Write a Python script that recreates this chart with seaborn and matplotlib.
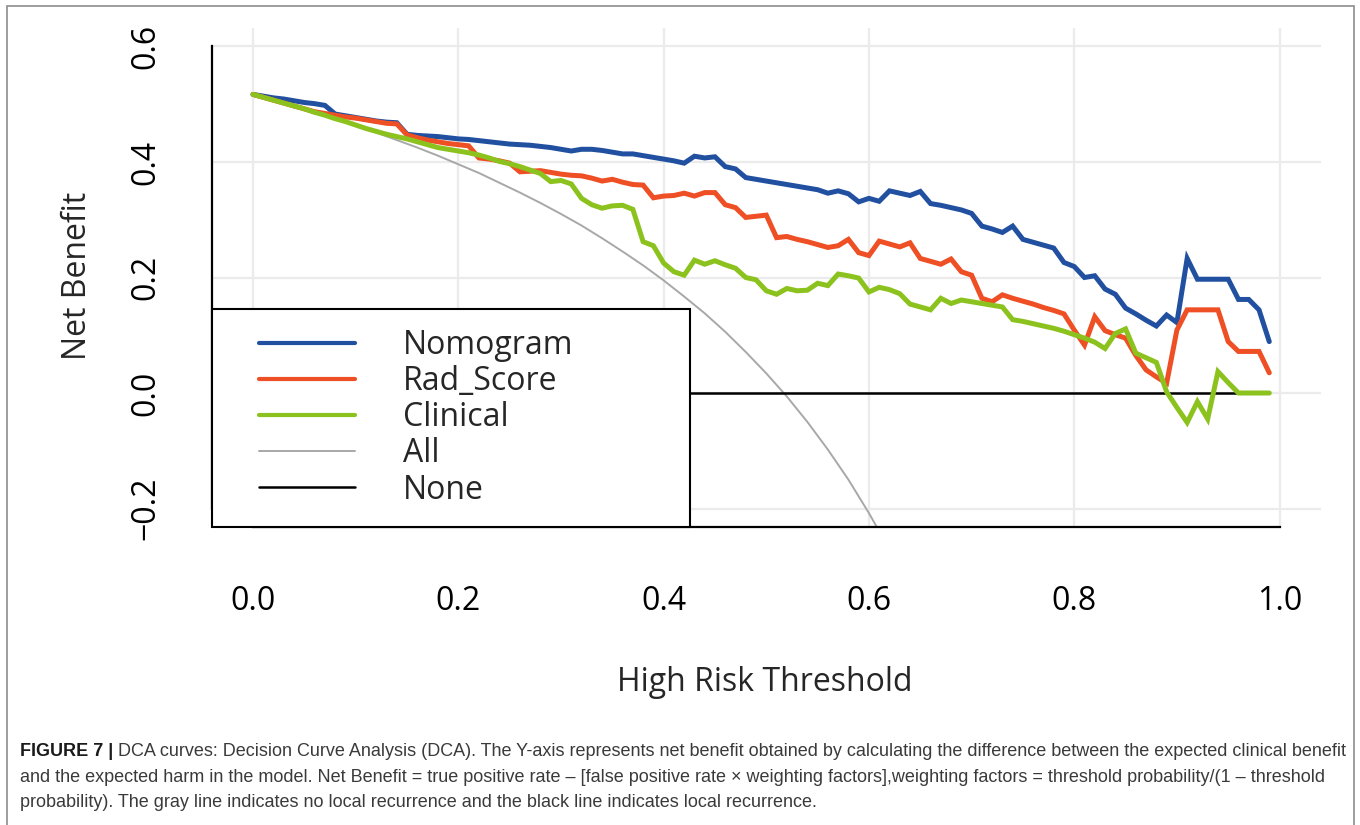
import matplotlib
matplotlib.use("Agg")
import matplotlib.pyplot as plt
import seaborn as sns
import pandas as pd
from matplotlib.lines import Line2D
from matplotlib.patches import Rectangle
from matplotlib.legend_handler import HandlerLine2D

# ---------------- data ----------------
thresholds = [round(i / 100, 2) for i in range(100)]

nomogram = [
    0.517, 0.514, 0.511, 0.509, 0.506, 0.503, 0.501, 0.498, 0.483, 0.480,
    0.477, 0.474, 0.471, 0.469, 0.468, 0.448, 0.446, 0.445, 0.444, 0.442,
    0.440, 0.439, 0.437, 0.435, 0.433, 0.431, 0.430, 0.429, 0.427, 0.425,
    0.422, 0.419, 0.422, 0.422, 0.420, 0.417, 0.414, 0.414, 0.411, 0.408,
    0.405, 0.402, 0.398, 0.410, 0.407, 0.409, 0.392, 0.388, 0.373, 0.370,
    0.367, 0.364, 0.361, 0.358, 0.355, 0.352, 0.346, 0.350, 0.345, 0.331,
    0.337, 0.332, 0.350, 0.346, 0.342, 0.349, 0.328, 0.325, 0.321, 0.317,
    0.311, 0.289, 0.284, 0.278, 0.289, 0.266, 0.261, 0.256, 0.251, 0.226,
    0.219, 0.200, 0.203, 0.180, 0.171, 0.147, 0.137, 0.126, 0.116, 0.135,
    0.122, 0.233, 0.197, 0.197, 0.197, 0.197, 0.162, 0.162, 0.144, 0.089,
]

rad_score = [
    0.517, 0.512, 0.507, 0.502, 0.497, 0.492, 0.487, 0.484, 0.481, 0.478,
    0.476, 0.473, 0.470, 0.467, 0.466, 0.447, 0.442, 0.438, 0.435, 0.432,
    0.430, 0.428, 0.407, 0.405, 0.402, 0.398, 0.383, 0.384, 0.385, 0.382,
    0.379, 0.377, 0.376, 0.372, 0.367, 0.370, 0.365, 0.361, 0.360, 0.338,
    0.341, 0.342, 0.346, 0.341, 0.347, 0.347, 0.326, 0.321, 0.304, 0.306,
    0.308, 0.269, 0.271, 0.266, 0.262, 0.257, 0.252, 0.255, 0.266, 0.243,
    0.238, 0.263, 0.258, 0.253, 0.260, 0.233, 0.228, 0.223, 0.232, 0.210,
    0.204, 0.164, 0.158, 0.170, 0.164, 0.159, 0.154, 0.148, 0.143, 0.137,
    0.109, 0.083, 0.132, 0.108, 0.101, 0.095, 0.065, 0.040, 0.028, 0.017,
    0.109, 0.144, 0.144, 0.144, 0.144, 0.089, 0.072, 0.072, 0.072, 0.035,
]

clinical = [
    0.517, 0.512, 0.507, 0.502, 0.497, 0.492, 0.486, 0.481, 0.475, 0.470,
    0.464, 0.458, 0.453, 0.448, 0.444, 0.440, 0.435, 0.430, 0.425, 0.422,
    0.419, 0.416, 0.412, 0.407, 0.401, 0.397, 0.392, 0.386, 0.380, 0.366,
    0.368, 0.362, 0.337, 0.326, 0.320, 0.324, 0.325, 0.318, 0.262, 0.255,
    0.225, 0.210, 0.204, 0.230, 0.223, 0.229, 0.222, 0.216, 0.200, 0.196,
    0.177, 0.171, 0.181, 0.177, 0.178, 0.190, 0.186, 0.206, 0.203, 0.199,
    0.175, 0.183, 0.179, 0.172, 0.154, 0.149, 0.144, 0.164, 0.155, 0.161,
    0.158, 0.155, 0.152, 0.149, 0.127, 0.124, 0.120, 0.116, 0.112, 0.107,
    0.101, 0.095, 0.088, 0.077, 0.103, 0.111, 0.069, 0.061, 0.053, 0.002,
    -0.025, -0.051, -0.015, -0.045, 0.037, 0.018, 0.000, 0.000, 0.000, 0.000,
]

all_thresholds = [0.00, 0.02, 0.04, 0.06, 0.08, 0.10, 0.12, 0.14, 0.16, 0.18,
                  0.20, 0.22, 0.24, 0.26, 0.28, 0.30, 0.32, 0.34, 0.36, 0.38,
                  0.40, 0.42, 0.44, 0.46, 0.48, 0.50, 0.52, 0.54, 0.56, 0.58,
                  0.60, 0.62]
treat_all = [0.517, 0.507, 0.497, 0.486, 0.475, 0.463, 0.451, 0.438, 0.425, 0.411,
             0.396, 0.381, 0.364, 0.347, 0.329, 0.310, 0.290, 0.268, 0.245, 0.221,
             0.195, 0.167, 0.138, 0.106, 0.071, 0.034, -0.006, -0.050, -0.098, -0.150,
             -0.208, -0.271]

none_thresholds = [0.00, 0.99]
treat_none = [0.0, 0.0]

series_names = ["Nomogram", "Rad_Score", "Clinical", "All", "None"]
x_ticks = [0.0, 0.2, 0.4, 0.6, 0.8, 1.0]
x_tick_labels = ["0.0", "0.2", "0.4", "0.6", "0.8", "1.0"]
y_ticks = [-0.2, 0.0, 0.2, 0.4, 0.6]
y_tick_labels = ["\u22120.2", "0.0", "0.2", "0.4", "0.6"]

caption_bold = "FIGURE 7 |"
caption_lines = [
    "DCA curves: Decision Curve Analysis (DCA). The Y-axis represents net benefit obtained by calculating the difference between the expected clinical benefit",
    "and the expected harm in the model. Net Benefit = true positive rate \u2013 [false positive rate \u00d7 weighting factors],weighting factors = threshold probability/(1 \u2013 threshold",
    "probability). The gray line indicates no local recurrence and the black line indicates local recurrence.",
]

# ---------------- style ----------------
colors = {"Nomogram": "#2150A0", "Rad_Score": "#EE4F24", "Clinical": "#8CC21E",
          "All": "#A8A8A8", "None": "#000000"}
widths = {"Nomogram": 3.6, "Rad_Score": 3.6, "Clinical": 3.6, "All": 1.4, "None": 1.8}
zorders = {"All": 2.0, "None": 2.1, "Nomogram": 2.2, "Rad_Score": 2.3, "Clinical": 2.4}

sns.set_style("white")
plt.rcParams["font.family"] = ["Open Sans", "DejaVu Sans"]

W, H = 1360, 825
fig = plt.figure(figsize=(W / 100, H / 100), dpi=100)
ax = fig.add_axes([212 / W, 1 - 527 / H, (1320.6 - 212) / W, (527 - 28) / H])

df_models = pd.DataFrame({
    "threshold": thresholds * 3,
    "net_benefit": nomogram + rad_score + clinical,
    "model": ["Nomogram"] * 100 + ["Rad_Score"] * 100 + ["Clinical"] * 100,
})
df_all = pd.DataFrame({"threshold": all_thresholds, "net_benefit": treat_all})
df_none = pd.DataFrame({"threshold": none_thresholds, "net_benefit": treat_none})

sns.lineplot(data=df_all, x="threshold", y="net_benefit", color=colors["All"],
             linewidth=widths["All"], ax=ax, zorder=zorders["All"])
sns.lineplot(data=df_none, x="threshold", y="net_benefit", color=colors["None"],
             linewidth=widths["None"], ax=ax, zorder=zorders["None"])
for name in ["Nomogram", "Rad_Score", "Clinical"]:
    sub = df_models[df_models["model"] == name]
    sns.lineplot(data=sub, x="threshold", y="net_benefit", color=colors[name],
                 linewidth=widths[name], ax=ax, zorder=zorders[name],
                 solid_joinstyle="miter")

ax.set_xlim(-0.04, 1.04)
ax.set_ylim(-0.232, 0.632)

# grid
for xt in x_ticks:
    ax.axvline(xt, color="#EBEBEB", lw=1.6, zorder=0.5)
for yt in y_ticks:
    ax.axhline(yt, color="#EBEBEB", lw=1.6, zorder=0.5)

# spines as in R base graphics
for s in ["top", "right"]:
    ax.spines[s].set_visible(False)
for s in ["left", "bottom"]:
    ax.spines[s].set_linewidth(1.6)
    ax.spines[s].set_color("black")
ax.spines["left"].set_bounds(-0.2, 0.6)
ax.spines["bottom"].set_bounds(0.0, 1.0)

ax.set_xticks(x_ticks)
ax.set_xticklabels(x_tick_labels)
ax.set_yticks(y_ticks)
ax.set_yticklabels(y_tick_labels, rotation=90, va="center")
ax.tick_params(axis="both", direction="out", length=16.5, width=1.5,
               color="black", labelsize=23, labelcolor="black")
ax.tick_params(axis="x", pad=25)
ax.tick_params(axis="y", pad=19)

ax.set_xlabel("High Risk Threshold", fontsize=23, va="center")
ax.set_ylabel("Net Benefit", fontsize=23, va="center")
ax.xaxis.set_label_coords(0.499, -0.3126)
ax.yaxis.set_label_coords(-0.121, 0.503)

# legend
handles = [Line2D([], [], color=colors[n], lw=(3.0 if widths[n] > 2 else widths[n]))
           for n in series_names]
leg = ax.legend(handles, series_names, loc="lower left",
                bbox_to_anchor=(0.0, 0.0, 478 / 1108.6, 0.4), mode="expand",
                borderaxespad=0.0, fancybox=False, framealpha=1.0,
                edgecolor="black", fontsize=23, handlelength=3.84,
                handletextpad=1.51, borderpad=0.64, labelspacing=0.097,
                handler_map={Line2D: HandlerLine2D(xpad=0.84)})
leg.get_frame().set_linewidth(1.5)
leg.set_zorder(5)

# figure border
fig.patches.append(Rectangle((7 / W, 1 - 830 / H), (1354 - 7) / W, (830 - 6) / H,
                             transform=fig.transFigure, fill=False,
                             edgecolor="#8C8C8C", lw=1.2))

# caption
cap_font = ["Liberation Sans", "DejaVu Sans"]
renderer = fig.canvas.get_renderer()
baselines = [756, 782, 807]
x0, x_right = 20, 1343
gap = 5


def draw_caption(size):
    arts = []
    tb = fig.text(x0 / W, 1 - baselines[0] / H, caption_bold, fontsize=size,
                  fontweight="bold", family=cap_font, color="#1A1A1A", va="baseline")
    bb = tb.get_window_extent(renderer)
    t1 = fig.text((bb.x1 + gap) / W, 1 - baselines[0] / H, caption_lines[0],
                  fontsize=size, family=cap_font, color="#3A3A3A", va="baseline")
    arts += [tb, t1]
    for i in (1, 2):
        arts.append(fig.text(x0 / W, 1 - baselines[i] / H, caption_lines[i],
                             fontsize=size, family=cap_font, color="#3A3A3A",
                             va="baseline"))
    return arts


trial = draw_caption(13.0)
right = trial[1].get_window_extent(renderer).x1
for a in trial:
    a.remove()
size = 13.0 * (x_right - x0) / (right - x0)
draw_caption(size)

fig.savefig("out.png", dpi=100, facecolor="white")
